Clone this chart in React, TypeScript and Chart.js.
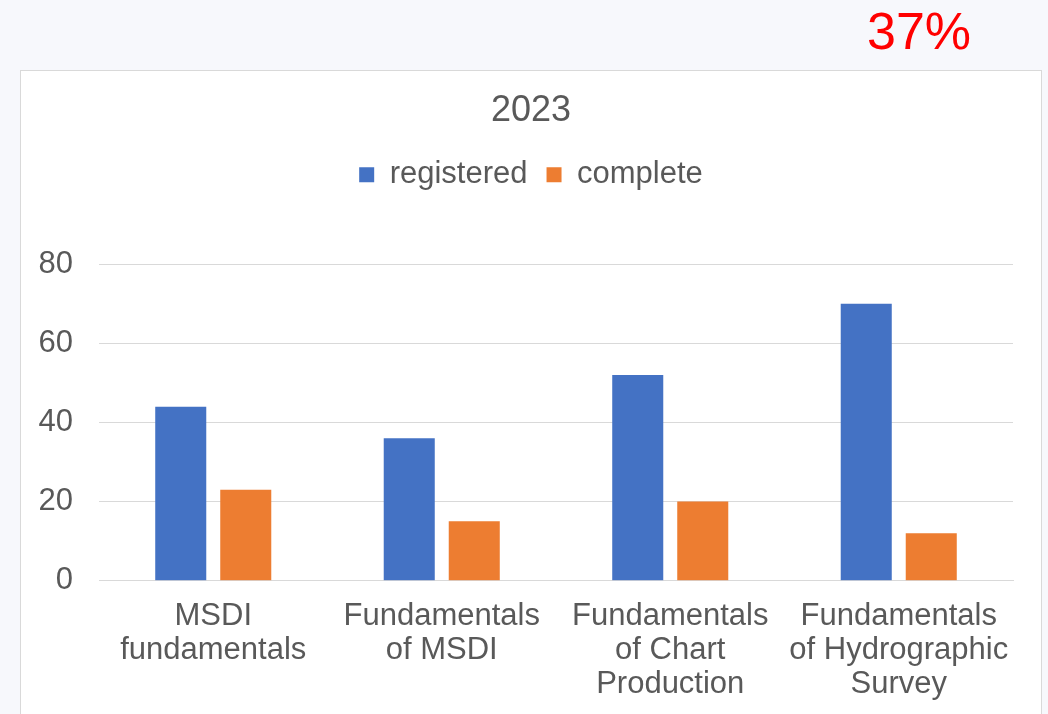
import React, { useEffect, useRef } from "react";
import { Chart, registerables } from "chart.js";

Chart.register(...registerables);

const categories: string[][] = [
  ["MSDI", "fundamentals"],
  ["Fundamentals", "of MSDI"],
  ["Fundamentals", "of Chart", "Production"],
  ["Fundamentals", "of Hydrographic", "Survey"],
];
const registered = [44, 36, 52, 70];
const complete = [23, 15, 20, 12];
const seriesNames = ["registered", "complete"];
const yMin = 0;
const yMax = 80;
const yStep = 20;
const chartTitle = "2023";
const badgeText = "37%";

const FONT = "'Liberation Sans', Arial, Helvetica, sans-serif";
const TEXT = "#595959";

export default function App() {
  const ref = useRef<HTMLCanvasElement | null>(null);

  useEffect(() => {
    if (!ref.current) return;
    const legendSpacer = {
      id: "legendSpacer",
      beforeInit(chart: any) {
        const lg = chart.legend;
        if (!lg) return;
        const orig = lg.fit;
        lg.fit = function () {
          orig.call(this);
          this.height = 124;
        };
      },
    };
    const chart = new Chart(ref.current, {
      type: "bar",
      data: {
        labels: categories,
        datasets: [
          {
            label: seriesNames[0],
            data: registered,
            backgroundColor: "#4472c4",
            categoryPercentage: 0.569,
            barPercentage: 0.785,
          },
          {
            label: seriesNames[1],
            data: complete,
            backgroundColor: "#ed7d31",
            categoryPercentage: 0.569,
            barPercentage: 0.785,
          },
        ],
      },
      options: {
        animation: false,
        responsive: false,
        maintainAspectRatio: false,
        layout: { padding: 0 },
        plugins: {
          title: {
            display: true,
            text: chartTitle,
            color: TEXT,
            font: { family: FONT, size: 36, weight: "normal", lineHeight: 1.2 },
            padding: { top: 18, bottom: 8 },
          },
          legend: {
            display: true,
            position: "top",
            labels: {
              color: TEXT,
              font: { family: FONT, size: 31 },
              boxWidth: 15,
              boxHeight: 15,
              padding: 19,
            },
          },
          tooltip: { enabled: false },
        },
        scales: {
          x: {
            grid: { display: false, drawTicks: false },
            border: { display: true, color: "#d9d9d9", width: 1 },
            ticks: {
              color: TEXT,
              font: { family: FONT, size: 31, lineHeight: 1.1 },
              padding: 19,
              maxRotation: 0,
              autoSkip: false,
            },
            afterFit(scale: any) {
              scale.paddingLeft = 0;
              scale.paddingRight = 0;
            },
          },
          y: {
            min: yMin,
            max: yMax,
            grid: { color: "#d9d9d9", drawTicks: false, lineWidth: 1 },
            border: { display: false },
            ticks: {
              stepSize: yStep,
              color: TEXT,
              font: { family: FONT, size: 31 },
              padding: 26,
            },
            afterFit(scale: any) {
              scale.width = 78;
            },
          },
          yRightSpace: {
            type: "linear",
            position: "right",
            display: true,
            grid: { display: false, drawTicks: false },
            border: { display: false },
            ticks: { display: false },
            afterFit(scale: any) {
              scale.width = 28;
            },
          },
        },
      },
      plugins: [legendSpacer],
    });
    return () => chart.destroy();
  }, []);

  return (
    <div
      style={{
        position: "fixed",
        left: 0,
        top: 0,
        width: 1048,
        height: 714,
        overflow: "hidden",
        background: "#f7f8fc",
      }}
    >
      <div
        style={{
          position: "absolute",
          left: 867,
          top: 5,
          fontFamily: FONT,
          fontSize: 52,
          lineHeight: "52px",
          color: "#ff0000",
          whiteSpace: "nowrap",
        }}
      >
        {badgeText}
      </div>
      <div
        style={{
          position: "absolute",
          left: 20,
          top: 70,
          width: 1022,
          height: 700,
          boxSizing: "border-box",
          border: "1px solid #d9d9d9",
          background: "#ffffff",
        }}
      >
        <canvas
          ref={ref}
          width={1020}
          height={650}
          style={{ position: "absolute", left: 0, top: 0, width: 1020, height: 650 }}
        />
      </div>
    </div>
  );
}
